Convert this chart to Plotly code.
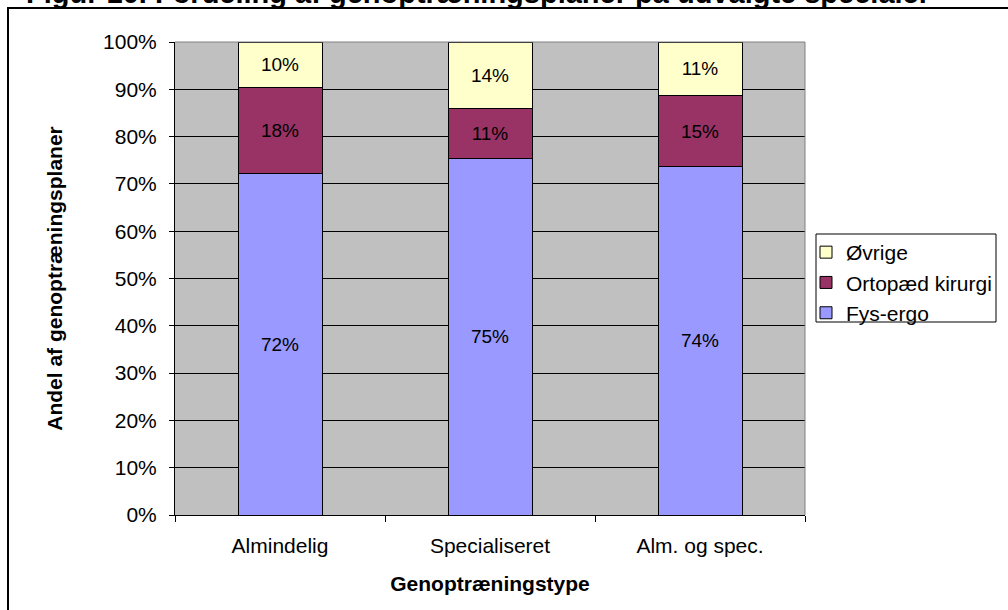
import plotly.graph_objects as go

categories = ["Almindelig", "Specialiseret", "Alm. og spec."]
fys_ergo = [72.3, 75.3, 73.6]
ortopaed = [18.0, 10.7, 15.0]
ovrige = [9.7, 14.0, 11.4]
series_names = ["Fys-ergo", "Ortopæd kirurgi", "Øvrige"]
series_colors = ["#9999FF", "#993366", "#FFFFCC"]
y_ticks = [0, 10, 20, 30, 40, 50, 60, 70, 80, 90, 100]

title_text = "Figur 10. Fordeling af genoptræningsplaner på udvalgte specialer"
x_title = "Genoptræningstype"
y_title = "Andel af genoptræningsplaner"

FONT = "Liberation Sans, Arial, sans-serif"

fig = go.Figure()
for name, vals, col in zip(series_names, [fys_ergo, ortopaed, ovrige], series_colors):
    fig.add_trace(go.Bar(
        x=categories,
        y=[v / 100 for v in vals],
        name=name,
        marker=dict(color=col, line=dict(color="black", width=1)),
        text=[f"{round(v)}%" for v in vals],
        textposition="inside",
        insidetextanchor="middle",
        textfont=dict(family=FONT, size=19, color="black"),
        textangle=0,
        constraintext="none",
        width=0.4,
        hoverinfo="skip",
    ))

W, H = 1008, 610
L, R, T, B = 175, 203, 42, 95
pw, ph = W - L - R, H - T - B

def px(x):
    return (x - L) / pw

def py(y):
    return (H - B - y) / ph

fig.update_layout(
    barmode="stack",
    width=W, height=H,
    autosize=False,
    margin=dict(l=L, r=R, t=T, b=B, pad=0),
    paper_bgcolor="white",
    plot_bgcolor="#C0C0C0",
    font=dict(family=FONT, size=21, color="black"),
    bargap=0.6,
    showlegend=True,
    legend=dict(
        xref="container", yref="container",
        x=806 / W, y=1 - 232 / H, xanchor="left", yanchor="top",
        traceorder="reversed",
        bgcolor="rgba(0,0,0,0)", borderwidth=0,
        font=dict(family=FONT, size=21, color="black"),
        itemwidth=30,
    ),
    xaxis=dict(
        type="category",
        automargin=False,
        showgrid=False,
        showline=True, linecolor="black", linewidth=1,
        ticks="outside", ticklen=6, tickcolor="black", tickwidth=1,
        tickson="boundaries",
        ticklabelstandoff=12,
        tickfont=dict(family=FONT, size=21),
        title=dict(text=f"<b>{x_title}</b>", font=dict(family=FONT, size=21), standoff=20),
        fixedrange=True,
    ),
    yaxis=dict(
        automargin=False,
        range=[0, 1],
        tickvals=[t / 100 for t in y_ticks],
        tickformat=".0%",
        showgrid=True, gridcolor="black", gridwidth=1,
        showline=True, linecolor="black", linewidth=1,
        ticks="outside", ticklen=5, tickcolor="black", tickwidth=1,
        ticklabelstandoff=8,
        tickfont=dict(family=FONT, size=21),
        title=dict(text=f"<b>{y_title}</b>", font=dict(family=FONT, size=21), standoff=34),
        zeroline=False,
        fixedrange=True,
    ),
    shapes=[
        # top and right edges of plot area (grey)
        dict(type="line", xref="paper", yref="paper", x0=0, x1=1, y0=1, y1=1,
             line=dict(color="#808080", width=1)),
        dict(type="line", xref="paper", yref="paper", x0=1, x1=1, y0=0, y1=1,
             line=dict(color="#808080", width=1)),
        # legend box
        dict(type="rect", xref="paper", yref="paper",
             x0=px(816), x1=px(996), y0=py(322), y1=py(234),
             line=dict(color="black", width=1), fillcolor="white", layer="below"),
        # outer chart border (partially cut)
        dict(type="rect", xref="paper", yref="paper",
             x0=px(8), x1=px(1040), y0=py(640), y1=py(8),
             line=dict(color="black", width=2), fillcolor="rgba(0,0,0,0)", layer="above"),
    ],
    annotations=[
        dict(text=f"<b>{title_text}</b>", xref="paper", yref="paper",
             x=px(478), y=py(-7), xanchor="center", yanchor="middle",
             showarrow=False, font=dict(family=FONT, size=29, color="black")),
    ],
)

fig.write_html("out.html", config={"displayModeBar": False},
               post_script="document.body.style.margin='0';")
